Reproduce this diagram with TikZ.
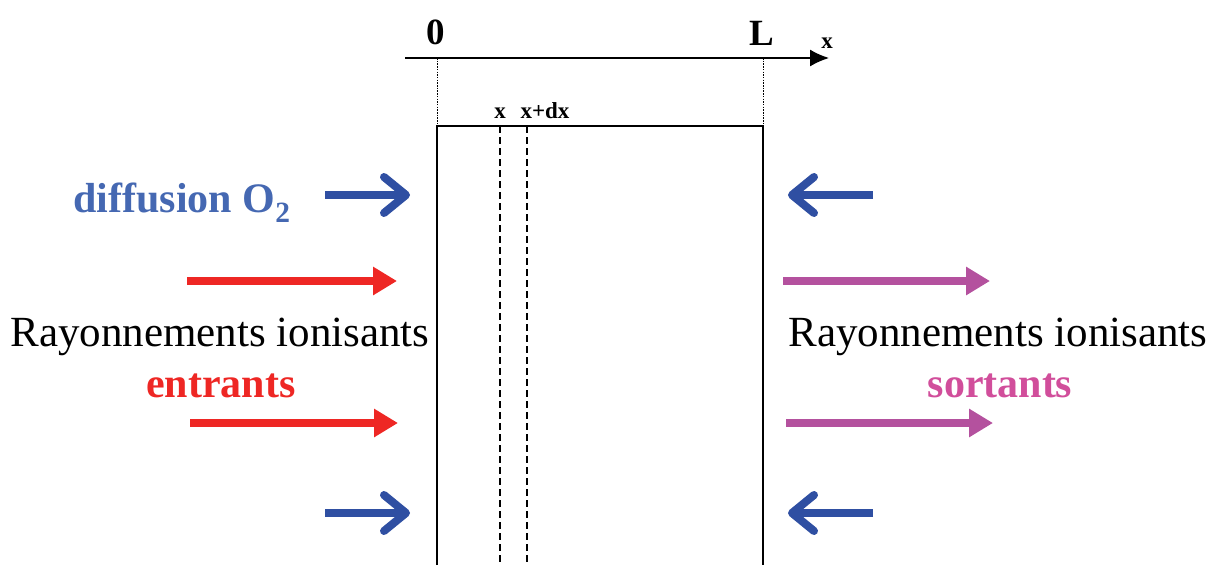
\documentclass[tikz,border=0pt]{standalone}
\usepackage{fontspec}
\setmainfont{Liberation Serif}
\usetikzlibrary{arrows.meta, positioning}
\definecolor{diffblue}{RGB}{47, 79, 162}
\definecolor{difftext}{RGB}{69, 104, 178}
\definecolor{inred}{RGB}{238, 39, 36}
\definecolor{outpink}{RGB}{180, 81, 158}
\definecolor{outtext}{RGB}{209, 78, 155}
\tikzstyle{bigtext} = [inner sep=0pt, anchor=base, font=\fontsize{43}{48}\selectfont]
\tikzstyle{boldtext} = [inner sep=0pt, anchor=base, font=\fontsize{42}{48}\selectfont\bfseries]
\tikzstyle{marktext} = [inner sep=0pt, anchor=base, font=\fontsize{37}{42}\selectfont\bfseries]
\tikzstyle{smalltext} = [inner sep=0pt, anchor=base, font=\fontsize{23}{26}\selectfont\bfseries]
\tikzstyle{wall} = [line width=1.3pt, black]
\tikzstyle{slice} = [line width=1.6pt, dash pattern=on 7pt off 4pt]
\tikzstyle{guide} = [line width=0.6pt, dash pattern=on 1.5pt off 1.2pt]
\tikzstyle{diffarrow} = [line width=8pt, diffblue, -{Straight Barb[length=22pt, width=36pt, round]}]
\tikzstyle{inarrow} = [line width=7.5pt, inred, -{Triangle[length=24pt, width=27pt]}]
\tikzstyle{outarrow} = [line width=7.5pt, outpink, -{Triangle[length=24pt, width=27pt]}]

\begin{document}
\begin{tikzpicture}[x=1pt, y=-1pt]
\useasboundingbox (0,0) rectangle (1210,565);

% Axis
\coordinate (axstart) at (405,58);
\coordinate (axend) at (829,58);
\draw [line width=1.5pt, -{Latex[length=19pt, width=17pt]}] (axstart) -- (axend);
\node (zero) [marktext] at (436,44) {0};
\node (len) [marktext] at (762,45) {L};
\node (xaxis) [smalltext] at (827,48) {x};

% Layer
\coordinate (tl) at (437,126);
\coordinate (tr) at (763,126);
\coordinate (bl) at (437,565);
\coordinate (br) at (763,565);
\coordinate (a0) at (437,58);
\coordinate (aL) at (763,58);
\draw [guide] (a0) -- (tl);
\draw [guide] (aL) -- (tr);
\draw [wall] (bl) -- (tl) -- (tr) -- (br);

% Slice x, x+dx
\coordinate (s1) at (500,126);
\coordinate (s2) at (527,126);
\coordinate (e1) at (500,565);
\coordinate (e2) at (527,565);
\draw [slice] (s1) -- (e1);
\draw [slice] (s2) -- (e2);
\node (xpos) [smalltext] at (500,118) {x};
\node (xdx) [smalltext] at (545,118) {x+dx};

% Oxygen diffusion
\node (diff) [boldtext, difftext] at (182,212) {diffusion O\textsubscript{2}};
\coordinate (d1a) at (325,195); \coordinate (d1b) at (410,195);
\coordinate (d2a) at (873,195); \coordinate (d2b) at (788,195);
\coordinate (d3a) at (325,513); \coordinate (d3b) at (410,513);
\coordinate (d4a) at (873,513); \coordinate (d4b) at (788,513);
\draw [diffarrow] (d1a) -- (d1b);
\draw [diffarrow] (d2a) -- (d2b);
\draw [diffarrow] (d3a) -- (d3b);
\draw [diffarrow] (d4a) -- (d4b);

% Incoming radiation
\node (rayin) [bigtext] at (220,346) {Rayonnements ionisants};
\node (entrants) [boldtext, inred] at (221,397) {entrants};
\coordinate (i1a) at (187,281); \coordinate (i1b) at (397,281);
\coordinate (i2a) at (190,423); \coordinate (i2b) at (398,423);
\draw [inarrow] (i1a) -- (i1b);
\draw [inarrow] (i2a) -- (i2b);

% Outgoing radiation
\node (rayout) [bigtext] at (998,346) {Rayonnements ionisants};
\node (sortants) [boldtext, outtext] at (1000,397) {sortants};
\coordinate (o1a) at (783,281); \coordinate (o1b) at (990,281);
\coordinate (o2a) at (786,423); \coordinate (o2b) at (993,423);
\draw [outarrow] (o1a) -- (o1b);
\draw [outarrow] (o2a) -- (o2b);

\end{tikzpicture}
\end{document}
